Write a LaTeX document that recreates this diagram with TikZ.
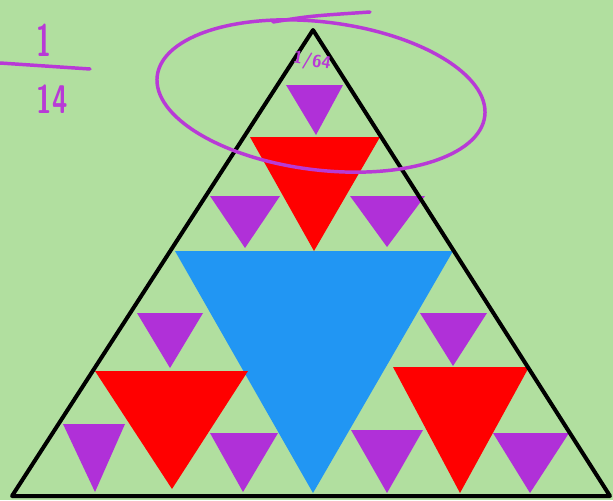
\documentclass[tikz,border=0pt]{standalone}
\usepackage{tikz}
\definecolor{bggreen}{RGB}{177,223,159}
\definecolor{tblue}{RGB}{33,150,243}
\definecolor{tred}{RGB}{255,0,0}
\definecolor{tpurple}{RGB}{176,48,216}
\definecolor{pen}{RGB}{184,58,214}
\tikzset{
  outline/.style={draw=black,line width=3pt,line join=round},
  bluetri/.style={fill=tblue},
  redtri/.style={fill=tred},
  purpletri/.style={fill=tpurple},
  penstroke/.style={draw=pen,line width=2.6pt,line cap=round,line join=round},
  pentext/.style={text=pen,inner sep=0pt}
}
\begin{document}
\begin{tikzpicture}[x=0.75pt,y=-0.75pt]
\fill[bggreen] (0,0) rectangle (613,500);
\useasboundingbox (0,0) rectangle (613,500);
% blue
\path[bluetri] (175,251) -- (453,251) -- (313,493) -- cycle;
% red
\path[redtri] (250,137) -- (380,137) -- (314,251) -- cycle;
\path[redtri] (95,371) -- (248,371) -- (172,489) -- cycle;
\path[redtri] (393,367) -- (529,367) -- (460,493) -- cycle;
% purple
\path[purpletri] (286,85) -- (343,85) -- (316,135) -- cycle;
\path[purpletri] (210,196) -- (280,196) -- (245,248) -- cycle;
\path[purpletri] (350,196) -- (425,196) -- (387,247) -- cycle;
\path[purpletri] (137,313) -- (203,313) -- (170,368) -- cycle;
\path[purpletri] (63,424) -- (125,424) -- (95,492) -- cycle;
\path[purpletri] (210,433) -- (278,433) -- (243,492) -- cycle;
\path[purpletri] (420,313) -- (487,313) -- (453,366) -- cycle;
\path[purpletri] (351,430) -- (423,430) -- (387,493) -- cycle;
\path[purpletri] (493,433) -- (569,433) -- (530,493) -- cycle;
% outer triangle
\coordinate (A) at (313,30);
\coordinate (B) at (12,496);
\coordinate (C) at (610,496);
\draw[outline] (B) -- (A) -- (C) -- cycle;
% annotations
\draw[penstroke,rotate around={-7:(321,96)}] (321,96) ellipse [x radius=165, y radius=74];
\draw[penstroke] (273,22) .. controls (310,16) .. (370,12);
\node[pentext,rotate=-10,font=\sffamily\fontsize{13}{14}\selectfont\bfseries] (n64) at (312,62) {1/64};
\node[pentext,font=\sffamily\fontsize{34}{36}\selectfont\bfseries,xscale=0.6] (num) at (44,40) {1};
\draw[penstroke] (0,63) -- (90,69);
\node[pentext,font=\sffamily\fontsize{30}{32}\selectfont\bfseries,xscale=0.7] (den) at (52,99) {14};
\end{tikzpicture}
\end{document}
